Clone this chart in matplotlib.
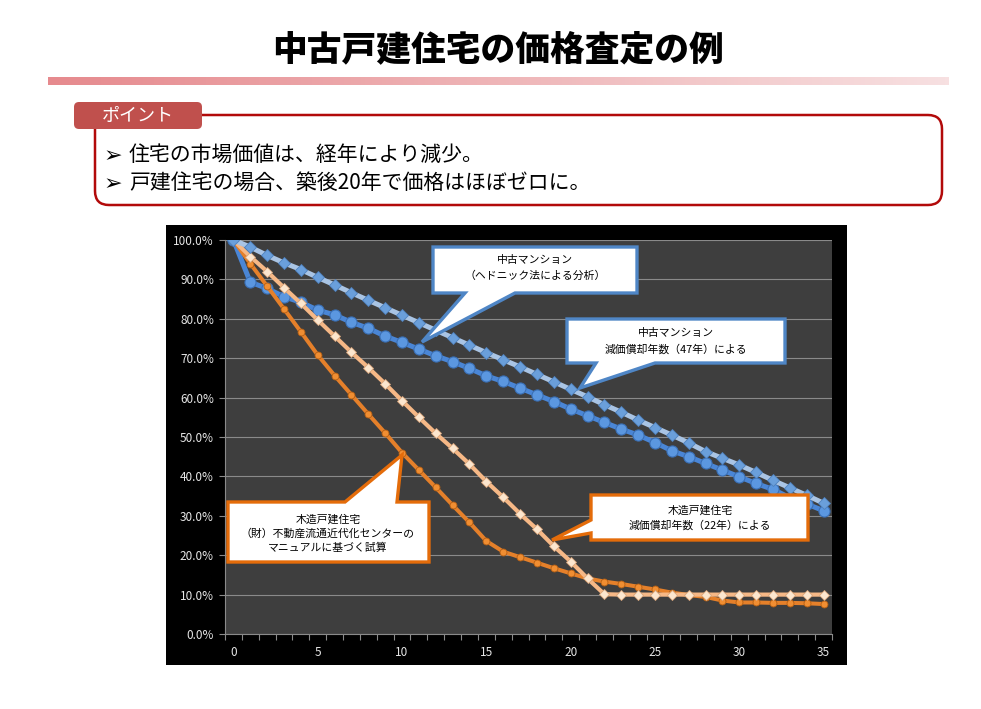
import numpy as np
import matplotlib
matplotlib.use('Agg')
import matplotlib.pyplot as plt
from matplotlib.patches import Rectangle, FancyBboxPatch, Polygon
from matplotlib.colors import LinearSegmentedColormap
from matplotlib.ticker import FuncFormatter

plt.rcParams['font.family'] = ['Noto Sans CJK JP', 'DejaVu Sans']

# Datos (% del valor inicial)
years = list(range(36))
hedonic = [100, 98.2, 96.1, 94.2, 92.5, 90.5, 88.6, 86.6, 84.7, 82.8, 80.9, 79.0,
           77.1, 75.2, 73.3, 71.4, 69.6, 67.8, 65.9, 64.0, 62.1, 60.2, 58.2, 56.3,
           54.3, 52.4, 50.5, 48.5, 46.3, 44.6, 42.9, 41.0, 39.0, 37.1, 35.2, 33.2]
mansion47 = [100, 89.3, 87.7, 85.6, 84.2, 82.2, 81.0, 79.1, 77.6, 75.6, 74.0, 72.3,
             70.6, 69.1, 67.4, 65.5, 64.1, 62.4, 60.7, 59.0, 57.1, 55.4, 53.7, 52.0,
             50.5, 48.6, 46.5, 45.0, 43.3, 41.6, 39.9, 38.2, 36.7, 34.6, 33.0, 31.3]
house22 = [100, 95.8, 92.0, 87.9, 83.9, 79.7, 75.6, 71.5, 67.6, 63.5, 59.2, 55.0,
           50.9, 47.1, 43.1, 38.7, 34.7, 30.5, 26.6, 22.3, 18.4, 14.1, 10.1, 10.0,
           10.0, 10.0, 10.0, 10.0, 10.0, 10.0, 10.0, 10.0, 10.0, 10.0, 10.0, 10.0]
manual = [100, 94.0, 88.3, 82.5, 76.7, 70.8, 65.6, 60.7, 55.8, 51.0, 46.0, 41.6,
          37.2, 32.7, 28.3, 23.6, 20.9, 19.5, 18.1, 16.7, 15.4, 14.1, 13.3, 12.7,
          12.0, 11.3, 10.5, 9.9, 9.4, 8.5, 8.0, 8.0, 7.9, 7.9, 7.8, 7.6]

title = '中古戸建住宅の価格査定の例'
bullets = ['住宅の市場価値は、経年により減少。', '戸建住宅の場合、築後20年で価格はほぼゼロに。']

W, H = 981, 709
fig = plt.figure(figsize=(W / 100, H / 100), dpi=100)

# Fons de la diapositiva (coordenades en pixels)
bg = fig.add_axes([0, 0, 1, 1], zorder=0)
bg.axis('off')
bg.text(498, 50, title, ha='center', va='center', fontsize=25, fontweight='heavy', color='black')
cmap = LinearSegmentedColormap.from_list('bar', ['#E68A8E', '#F7E0E1'])
bg.imshow(np.linspace(0, 1, 256).reshape(1, -1), extent=(48, 949, 85, 77), aspect='auto', cmap=cmap)
bg.add_patch(FancyBboxPatch((95, 115), 847, 90, boxstyle='round,pad=0,rounding_size=14',
                            fc='white', ec='#B20A0A', lw=1.8))
bg.add_patch(FancyBboxPatch((74, 102), 128, 27, boxstyle='round,pad=0,rounding_size=5',
                            fc='#C0504D', ec='none'))
bg.text(138, 115.5, 'ポイント', ha='center', va='center', fontsize=13, color='white')
for i, b in enumerate(bullets):
    y = 155 + i * 28
    bg.text(104, y + 1, '➢', ha='left', va='center', fontsize=16, color='black', family=['DejaVu Sans'])
    bg.text(129, y, b, ha='left', va='center', fontsize=15, color='black')
bg.add_patch(Rectangle((166, 225), 681, 440, fc='black', ec='none'))
bg.set_xlim(0, W)
bg.set_ylim(H, 0)

# Grafic
ax = fig.add_axes([225 / W, 1 - 634 / H, 607 / W, 394 / H], zorder=1)
ax.set_facecolor('#3E3E3E')
ax.plot(years, mansion47, color='#4A86D6', lw=3.6, marker='o', ms=8,
        mfc='#5B97E0', mec='#3A6FB5', mew=0.8, zorder=3)
ax.plot(years, manual, color='#E5802A', lw=2.9, marker='o', ms=5,
        mfc='#F08E32', mec='#B55E12', mew=0.6, zorder=4)
ax.plot(years, house22, color='#F6B886', lw=3.0, marker='D', ms=5.5,
        mfc='#FCE6CE', mec='#D9A57A', mew=0.6, zorder=5)
ax.plot(years, hedonic, color='#A9C4E4', lw=3.6, marker='D', ms=6,
        mfc='#6A9FDB', mec='#4F81BD', mew=0.6, zorder=6)

ax.set_xlim(-0.5, 35.5)
ax.set_ylim(0, 100)
ax.set_yticks(np.arange(0, 101, 10))
ax.yaxis.set_major_formatter(FuncFormatter(lambda v, p: f'{v:.1f}%'))
ax.grid(axis='y', color='#8A8A8A', lw=0.8)
ax.set_axisbelow(True)
ax.set_xticks(np.arange(-0.5, 36, 1))
ax.set_xticklabels([])
ax.set_xticks(np.arange(0, 36, 5), minor=True)
ax.set_xticklabels([str(v) for v in range(0, 36, 5)], minor=True)
ax.tick_params(axis='x', which='major', length=4, color='#8A8A8A', direction='out')
ax.tick_params(axis='x', which='minor', length=0, pad=9, labelsize=8.5, labelcolor='#E6E6E6')
ax.tick_params(axis='y', length=4, color='#8A8A8A', pad=4, labelsize=8.5, labelcolor='#E6E6E6')
for s in ['top', 'right']:
    ax.spines[s].set_visible(False)
for s in ['left', 'bottom']:
    ax.spines[s].set_color('#8A8A8A')

# Bafarades
ov = fig.add_axes([0, 0, 1, 1], zorder=2)
ov.axis('off')
ov.patch.set_visible(False)

blue_ec = '#4F86C6'
orange_ec = '#E46C0A'
callouts = [
    ([(433, 247), (637, 247), (637, 293), (515, 293), (422, 342), (465, 293), (433, 293)],
     blue_ec, 535, [260, 276], ['中古マンション', '（ヘドニック法による分析）']),
    ([(567, 319), (785, 319), (785, 363), (655, 363), (580, 388), (596, 363), (567, 363)],
     blue_ec, 676, [333, 349], ['中古マンション', '減価償却年数（47年）による']),
    ([(228, 502), (345, 502), (402, 455), (397, 502), (429, 502), (429, 562), (228, 562)],
     orange_ec, 328, [519, 534, 548], ['木造戸建住宅', '（財）不動産流通近代化センターの', 'マニュアルに基づく試算']),
    ([(591, 495), (808, 495), (808, 540), (591, 540), (591, 533), (552, 540), (591, 520)],
     orange_ec, 700, [510, 525], ['木造戸建住宅', '減価償却年数（22年）による']),
]
for pts, ec, cx, ys, lines in callouts:
    ov.add_patch(Polygon(pts, closed=True, fc='white', ec=ec, lw=2.4, joinstyle='miter'))
    for y, t in zip(ys, lines):
        ov.text(cx, y, t, ha='center', va='center', fontsize=7.8, color='black')
ov.set_xlim(0, W)
ov.set_ylim(H, 0)

fig.savefig('out.png', dpi=100, facecolor='white')
